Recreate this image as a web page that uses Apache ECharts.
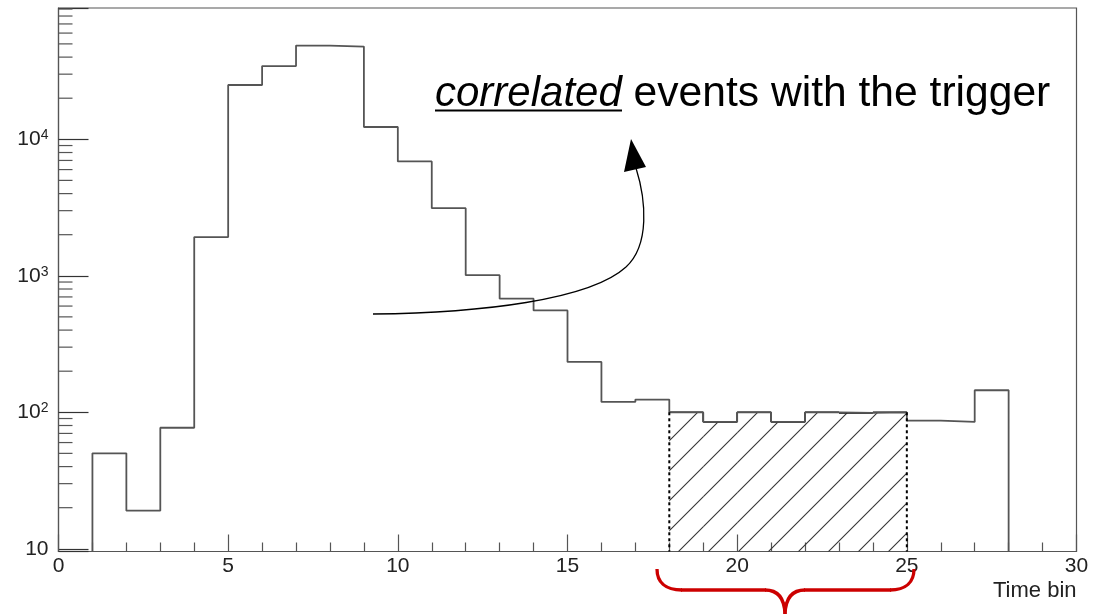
<!DOCTYPE html>
<html>
<head>
<meta charset="utf-8">
<script src="https://cdn.jsdelivr.net/npm/echarts@6/dist/echarts.min.js"></script>
<style>
  html, body { margin: 0; padding: 0; background: #ffffff; }
  #chart { width: 1100px; height: 614px; }
</style>
</head>
<body>
<div id="chart"></div>
<script>
// Histogram: lower edge of each unit-wide time bin and its entry count
const binLow = [1, 2, 3, 4, 5, 6, 7, 8, 9, 10, 11, 12, 13, 14, 15, 16, 17, 18, 19, 20, 21, 22, 23, 24, 25, 26, 27];
const counts = [50, 19, 77, 1920, 25000, 34400, 48600, 47800, 12300, 6880, 3130, 1010, 680, 557, 234, 119, 124,
                100, 85, 100, 85, 100, 99, 100, 87, 85, 145];

// Shaded window (bin edges)
const windowFrom = 18;
const windowTo = 25;

// Axis ranges
const xRange = [0, 30];
const yRange = [9.55, 91600];
const xMajorStep = 5;

// Text
const xTitle = 'Time bin';
const noteItalic = 'correlated';
const noteRest = ' events with the trigger';

const FONT = '"Liberation Sans", Arial, Helvetica, sans-serif';
const AXIS_COLOR = '#555555';
const HIST_COLOR = '#555555';

// Step outline of the histogram, closed down to the axis at both ends
const histPts = [[binLow[0], yRange[0]]];
binLow.forEach((lo, i) => { histPts.push([lo, counts[i]], [lo + 1, counts[i]]); });
histPts.push([binLow[binLow.length - 1] + 1, yRange[0]]);

// Bins inside the shaded window: [low edge, count, count of the previous bin]
const windowBins = [];
binLow.forEach((lo, i) => {
  if (lo >= windowFrom && lo < windowTo) windowBins.push([lo, counts[i], i > 0 ? counts[i - 1] : counts[i]]);
});
const countAt = lo => counts[binLow.indexOf(lo)];
const windowEdges = [[windowFrom, countAt(windowFrom)], [windowTo, countAt(windowTo - 1)]];

// Minor tick values of the log axis (2..9 x 10^k)
const yMinorTicks = [];
for (let k = 0; k <= 5; k++) {
  for (let m = 2; m <= 9; m++) {
    const v = m * Math.pow(10, k);
    if (v > yRange[0] && v < yRange[1]) yMinorTicks.push([xRange[0], v]);
  }
}

// Diagonal hatch tile
function makeHatch(size) {
  const c = document.createElement('canvas');
  c.width = size; c.height = size;
  const g = c.getContext('2d');
  g.strokeStyle = '#333333';
  g.lineWidth = 1.1;
  [0, size, 2 * size].forEach(s => {
    g.beginPath();
    g.moveTo(-1, s + 1);
    g.lineTo(s + 1, -1);
    g.stroke();
  });
  return c;
}
const hatchTile = makeHatch(30);

const chart = echarts.init(document.getElementById('chart'), null, { renderer: 'canvas' });

const blackLine = { stroke: '#000000', lineWidth: 1.3, fill: null };
const redLine = { stroke: '#cc0000', lineWidth: 3.3, fill: null };

const option = {
  animation: false,
  backgroundColor: '#ffffff',
  grid: {
    left: 58.5, right: 23.5, top: 8, bottom: 62.5,
    show: true, borderColor: AXIS_COLOR, borderWidth: 1.2,
    containLabel: false, outerBoundsMode: 'none'
  },
  xAxis: {
    type: 'value',
    min: xRange[0], max: xRange[1], interval: xMajorStep,
    splitLine: { show: false },
    axisLine: { show: true, onZero: false, lineStyle: { color: AXIS_COLOR, width: 1.2 } },
    axisTick: { show: true, inside: true, length: 17, lineStyle: { color: AXIS_COLOR, width: 1.2 } },
    minorTick: { show: true, splitNumber: 5, length: 9, lineStyle: { color: AXIS_COLOR, width: 1.2 } },
    minorSplitLine: { show: false },
    axisLabel: { margin: 4, color: '#222222', fontFamily: FONT, fontSize: 21, showMinLabel: true, showMaxLabel: true }
  },
  yAxis: {
    type: 'log', logBase: 10,
    min: yRange[0], max: yRange[1],
    splitLine: { show: false },
    axisLine: { show: true, lineStyle: { color: AXIS_COLOR, width: 1.2 } },
    axisTick: { show: true, inside: true, length: 30, lineStyle: { color: '#333333', width: 1.2 } },
    minorTick: { show: false },
    axisLabel: {
      margin: 10, color: '#222222', fontFamily: FONT,
      formatter: v => {
        const e = Math.round(Math.log10(v));
        if (Math.abs(v - Math.pow(10, e)) > 1e-6 * v) return '';
        return e === 1 ? '{b|10}' : '{b|10}{s|' + e + '}';
      },
      rich: {
        b: { fontSize: 21, fontFamily: FONT, color: '#222222', lineHeight: 22 },
        s: { fontSize: 14, fontFamily: FONT, color: '#222222', lineHeight: 13, verticalAlign: 'top' }
      }
    }
  },
  series: [
    {
      // hatched window under the histogram
      type: 'custom',
      data: windowBins,
      z: 1,
      renderItem: (params, api) => {
        const lo = api.value(0), v = api.value(1), prev = api.value(2);
        const tl = api.coord([lo, v]);
        const br = api.coord([lo + 1, yRange[0]]);
        const children = [
          { type: 'rect', shape: { x: tl[0], y: tl[1], width: br[0] - tl[0], height: br[1] - tl[1] },
            style: { fill: { image: hatchTile, repeat: 'repeat' } } },
          { type: 'line', shape: { x1: tl[0], y1: tl[1], x2: br[0], y2: tl[1] },
            style: { stroke: '#000000', lineWidth: 1.6 }, z2: 20 }
        ];
        if (lo > windowFrom) {
          const p = api.coord([lo, prev]);
          children.push({ type: 'line', shape: { x1: tl[0], y1: p[1], x2: tl[0], y2: tl[1] },
            style: { stroke: '#000000', lineWidth: 1.6 }, z2: 20 });
        }
        return { type: 'group', children };
      }
    },
    {
      // histogram outline
      type: 'line',
      data: histPts,
      z: 3,
      symbol: 'none',
      showSymbol: false,
      lineStyle: { color: HIST_COLOR, width: 1.8 },
      clip: true
    },
    {
      // dashed window edges
      type: 'custom',
      data: windowEdges,
      z: 5,
      renderItem: (params, api) => {
        const top = api.coord([api.value(0), api.value(1)]);
        const bot = api.coord([api.value(0), yRange[0]]);
        return { type: 'line', shape: { x1: top[0], y1: top[1], x2: bot[0], y2: bot[1] },
          style: { stroke: '#000000', lineWidth: 2, lineDash: [3, 3] } };
      }
    },
    {
      // minor ticks of the log axis
      type: 'custom',
      data: yMinorTicks,
      z: 4,
      renderItem: (params, api) => {
        const p = api.coord([api.value(0), api.value(1)]);
        return { type: 'line', shape: { x1: p[0], y1: p[1], x2: p[0] + 14, y2: p[1] },
          style: { stroke: AXIS_COLOR, lineWidth: 1.2 } };
      }
    }
  ],
  graphic: [
    {
      type: 'text', x: 1076.5, y: 591, z: 10,
      style: { text: xTitle, fontFamily: FONT, fontSize: 22, fill: '#222222', align: 'right', verticalAlign: 'middle' }
    },
    {
      type: 'text', x: 435, y: 94, z: 10,
      style: {
        text: '{i|' + noteItalic + '}' + noteRest,
        fontFamily: FONT, fontSize: 42.6, fill: '#000000', verticalAlign: 'middle',
        rich: { i: { fontStyle: 'italic', fontFamily: FONT, fontSize: 42, fill: '#000000' } }
      }
    },
    { type: 'line', z: 10, shape: { x1: 435, y1: 110.5, x2: 622, y2: 110.5 }, style: { stroke: '#000000', lineWidth: 2 } },
    // curved arrow
    { type: 'bezierCurve', z: 10, shape: { x1: 373, y1: 314, cpx1: 480, cpy1: 313, cpx2: 590, cpy2: 300, x2: 626, y2: 267 }, style: blackLine },
    { type: 'bezierCurve', z: 10, shape: { x1: 626, y1: 267, cpx1: 650, cpy1: 245, cpx2: 646, cpy2: 200, x2: 636, y2: 168 }, style: blackLine },
    { type: 'polygon', z: 10, shape: { points: [[631, 139], [624, 172], [646, 167]] }, style: { fill: '#000000' } },
    // red brace under the window
    { type: 'bezierCurve', z: 10, shape: { x1: 657, y1: 569, cpx1: 657, cpy1: 582, cpx2: 665, cpy2: 590, x2: 682, y2: 590 }, style: redLine },
    { type: 'line', z: 10, shape: { x1: 681, y1: 590, x2: 766, y2: 590 }, style: redLine },
    { type: 'bezierCurve', z: 10, shape: { x1: 765, y1: 590, cpx1: 778, cpy1: 590, cpx2: 785, cpy2: 598, x2: 785, y2: 616 }, style: redLine },
    { type: 'bezierCurve', z: 10, shape: { x1: 785, y1: 616, cpx1: 785, cpy1: 598, cpx2: 792, cpy2: 590, x2: 805, y2: 590 }, style: redLine },
    { type: 'line', z: 10, shape: { x1: 804, y1: 590, x2: 891, y2: 590 }, style: redLine },
    { type: 'bezierCurve', z: 10, shape: { x1: 890, y1: 590, cpx1: 906, cpy1: 590, cpx2: 914, cpy2: 582, x2: 914, y2: 569 }, style: redLine }
  ]
};

chart.setOption(option);
</script>
</body>
</html>
